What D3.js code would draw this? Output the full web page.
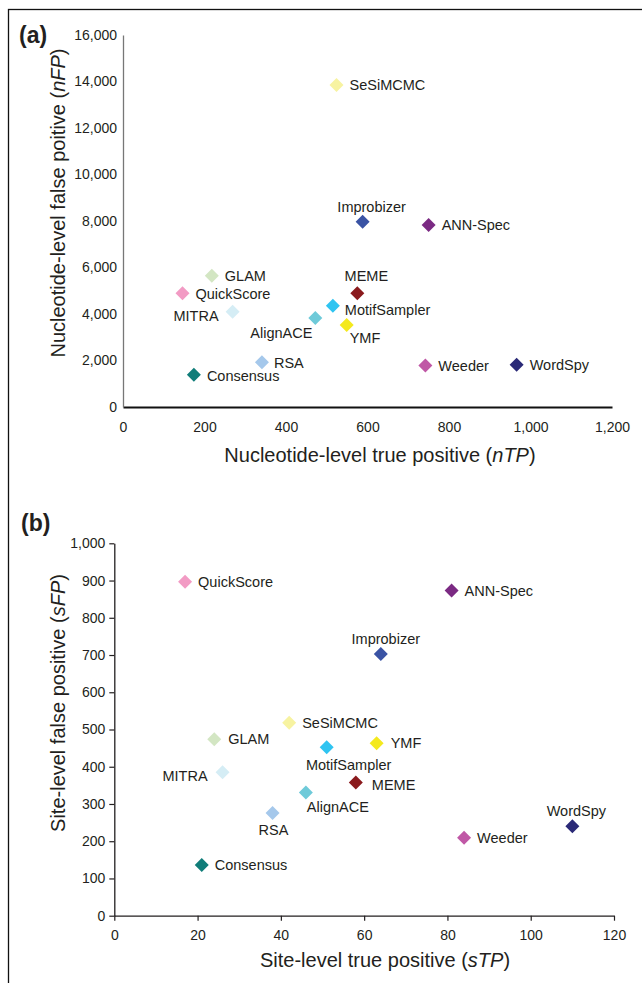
<!DOCTYPE html>
<html>
<head>
<meta charset="utf-8">
<script src="https://cdn.jsdelivr.net/npm/d3@7"></script>
<style>
  body { margin: 0; background: #fff; }
  text { font-family: "Liberation Sans", Arial, Helvetica, sans-serif; fill: #231f20; }
</style>
</head>
<body>
<div id="chart"></div>
<script>
// motif finding tools, same order in every array
const methods = ["SeSiMCMC", "Improbizer", "ANN-Spec", "GLAM", "QuickScore", "MITRA", "AlignACE",
                 "RSA", "Consensus", "MotifSampler", "MEME", "YMF", "Weeder", "WordSpy"];
const colors = ["#f7f3a1", "#3a53a4", "#7b2a83", "#d3e6c3", "#f29bc4", "#d5edf5", "#6ecad9",
                "#a5c8eb", "#107d79", "#2fc4f1", "#8a1a1d", "#f4e91e", "#c058a6", "#2b2a77"];

// (a) nucleotide level
const nTP = [524, 588, 750, 218, 146, 269, 472, 341, 174, 515, 575, 549, 742, 966];
const nFP = [13850, 7970, 7830, 5650, 4890, 4100, 3830, 1920, 1390, 4360, 4890, 3530, 1780, 1820];
const nTicksX = [0, 200, 400, 600, 800, 1000, 1200];
const nTicksY = [0, 2000, 4000, 6000, 8000, 10000, 12000, 14000, 16000];

// (b) site level
const sTP = [42, 64, 81, 24, 17, 26, 46, 38, 21, 51, 58, 63, 84, 110];
const sFP = [518, 703, 873, 474, 897, 385, 331, 276, 136, 452, 358, 463, 209, 240];
const sTicksX = [0, 20, 40, 60, 80, 100, 120];
const sTicksY = [0, 100, 200, 300, 400, 500, 600, 700, 800, 900, 1000];

// label placement: [anchor, dx, dy]
const placeA = {
  "SeSiMCMC": ["start", 13, 0], "Improbizer": ["middle", 9, -15], "ANN-Spec": ["start", 13, 0],
  "GLAM": ["start", 13, 0], "QuickScore": ["start", 13, 0], "MITRA": ["end", -14, 4],
  "AlignACE": ["middle", -34, 15], "RSA": ["start", 12, 0], "Consensus": ["start", 13, 1],
  "MotifSampler": ["start", 12, 4], "MEME": ["middle", 9, -18], "YMF": ["start", 3, 13],
  "Weeder": ["start", 13, 0], "WordSpy": ["start", 13, 0]
};
const placeB = {
  "SeSiMCMC": ["start", 13, 0], "Improbizer": ["middle", 5, -15], "ANN-Spec": ["start", 13, 0],
  "GLAM": ["start", 14, 0], "QuickScore": ["start", 13, 0], "MITRA": ["end", -15, 3],
  "AlignACE": ["start", 1, 14], "RSA": ["middle", 1, 17], "Consensus": ["start", 13, 0],
  "MotifSampler": ["middle", 22, 17], "MEME": ["start", 16, 2], "YMF": ["start", 14, 0],
  "Weeder": ["start", 13, 0], "WordSpy": ["middle", 4, -16]
};

const W = 642, H = 983;
const svg = d3.select("#chart").append("svg").attr("width", W).attr("height", H);

// figure frame (runs off the right and bottom edges)
svg.append("rect")
  .attr("x", 8.5).attr("y", 9.5).attr("width", 700).attr("height", 1000)
  .attr("fill", "none").attr("stroke", "#111").attr("stroke-width", 1.3);

const diamond = d3.symbol().type(d3.symbolSquare).size(98);

function panel(o) {
  const x = d3.scaleLinear().domain([o.xTicks[0], o.xTicks[o.xTicks.length - 1]]).range(o.xr);
  const y = d3.scaleLinear().domain([o.yTicks[0], o.yTicks[o.yTicks.length - 1]]).range(o.yr);
  const g = svg.append("g");

  const xa = g.append("g").attr("transform", `translate(0,${o.yr[0]})`)
    .call(d3.axisBottom(x).tickValues(o.xTicks).tickFormat(d3.format(","))
      .tickSizeOuter(0).tickSizeInner(o.tick).tickPadding(o.xPad));
  const ya = g.append("g").attr("transform", `translate(${o.xr[0]},0)`)
    .call(d3.axisLeft(y).tickValues(o.yTicks).tickFormat(d3.format(","))
      .tickSizeOuter(0).tickSizeInner(o.tick).tickPadding(o.yPad));

  [xa, ya].forEach(a => {
    a.selectAll("text").style("font-size", "14px").attr("fill", "#231f20")
      .attr("font-family", null);
    a.selectAll("line").attr("stroke", "#231f20").attr("stroke-width", 1.2);
  });
  xa.select(".domain").attr("stroke", o.xDomain).attr("stroke-width", o.xDomainW);
  ya.select(".domain").attr("stroke", o.yDomain).attr("stroke-width", o.yDomainW);

  // markers
  g.selectAll("path.pt").data(methods).enter().append("path")
    .attr("class", "pt")
    .attr("d", diamond)
    .attr("transform", (d, i) => `translate(${x(o.xs[i])},${y(o.ys[i])}) rotate(45)`)
    .attr("fill", (d, i) => colors[i]);

  g.selectAll("text.lbl").data(methods).enter().append("text")
    .attr("class", "lbl")
    .attr("x", (d, i) => x(o.xs[i]) + o.place[d][1])
    .attr("y", (d, i) => y(o.ys[i]) + o.place[d][2])
    .attr("dy", "0.36em")
    .attr("text-anchor", d => o.place[d][0])
    .style("font-size", "14.5px")
    .text(d => d);

  // axis titles
  const xt = g.append("text")
    .attr("x", o.xTitlePos[0]).attr("y", o.xTitlePos[1]).attr("dy", "0.36em")
    .attr("text-anchor", "middle").style("font-size", "20px");
  xt.append("tspan").text(o.xTitle[0]);
  xt.append("tspan").attr("font-style", "italic").text(o.xTitle[1]);
  xt.append("tspan").text(")");

  const yt = g.append("text")
    .attr("transform", `translate(${o.yTitlePos[0]},${o.yTitlePos[1]}) rotate(-90)`)
    .attr("dy", "0.36em")
    .attr("text-anchor", "middle").style("font-size", "20px");
  yt.append("tspan").text(o.yTitle[0]);
  yt.append("tspan").attr("font-style", "italic").text(o.yTitle[1]);
  yt.append("tspan").text(")");

  g.append("text")
    .attr("x", o.tag[0]).attr("y", o.tag[1])
    .style("font-size", "23px").style("font-weight", "bold")
    .text(o.tagText);
}

panel({
  xs: nTP, ys: nFP, xTicks: nTicksX, yTicks: nTicksY, place: placeA,
  xr: [123, 612], yr: [407, 35], tick: 0, xPad: 15, yPad: 6,
  xDomain: "#111", xDomainW: 2.2, yDomain: "#777", yDomainW: 1.3,
  xTitle: ["Nucleotide-level true positive (", "nTP"], xTitlePos: [380, 455],
  yTitle: ["Nucleotide-level false poitive (", "nFP"], yTitlePos: [58, 203],
  tag: [19, 43], tagText: "(a)"
});

panel({
  xs: sTP, ys: sFP, xTicks: sTicksX, yTicks: sTicksY, place: placeB,
  xr: [114.3, 614], yr: [915.7, 543.3], tick: 5, xPad: 9, yPad: 4,
  xDomain: "#231f20", xDomainW: 1.3, yDomain: "#231f20", yDomainW: 1.3,
  xTitle: ["Site-level true positive (", "sTP"], xTitlePos: [385, 960],
  yTitle: ["Site-level false positive (", "sFP"], yTitlePos: [58, 703],
  tag: [21, 531], tagText: "(b)"
});
</script>
</body>
</html>
